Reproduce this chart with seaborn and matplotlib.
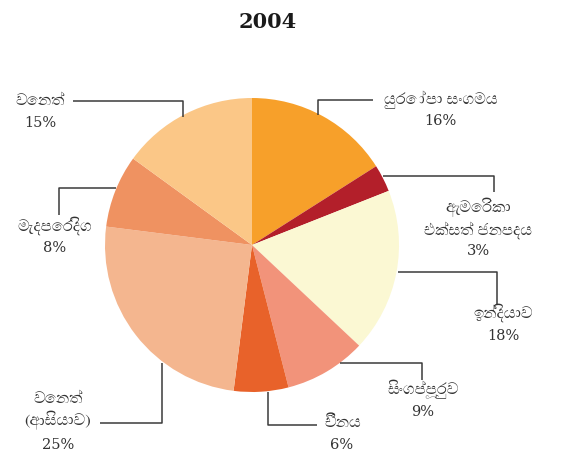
import matplotlib
matplotlib.use("Agg")
import matplotlib.pyplot as plt
from matplotlib import font_manager
import seaborn as sns

# ---- data ----
title = "2004"
categories = ["යුරෝපා සංගමය", "ඇමෙරිකා\nඑක්සත් ජනපදය", "ඉන්දියාව", "සිංගප්පූරුව",
              "චීනය", "වෙනත්\n(ආසියාව)", "මැදපෙරදිග", "වෙනත්"]
values = [16, 3, 18, 9, 6, 25, 8, 15]
colors = ["#F7A02A", "#B31F2A", "#FBF8D3", "#F2937A", "#E8622A", "#F4B68F", "#EF9261", "#FBC787"]

sns.set_theme(style="white")


def find_sinhala_families():
    fams = []
    try:
        from fontTools.ttLib import TTFont
    except Exception:
        return fams
    for fe in font_manager.fontManager.ttflist:
        if fe.name in fams:
            continue
        try:
            f = TTFont(fe.fname, fontNumber=0, lazy=True)
            cmap = f.getBestCmap() or {}
            if 0x0D9A in cmap and 0x0DCA in cmap:
                fams.append(fe.name)
        except Exception:
            pass
    # prefer serif-looking, non-UI families
    fams.sort(key=lambda n: (0 if "Serif" in n else 1, 1 if "UI" in n else 0))
    return fams


sin_fams = find_sinhala_families()
family_list = sin_fams + ["DejaVu Sans"]
plt.rcParams["font.family"] = family_list

W, H = 566, 462
fig = plt.figure(figsize=(W / 100, H / 100), dpi=100)
ax = fig.add_axes([0, 0, 1, 1])


def Y(y):
    return H - y


cx, cy, r = 252, 245, 147
ax.pie(values, colors=sns.color_palette(colors), startangle=90, counterclock=False,
       center=(cx, Y(cy)), radius=r, frame=True,
       wedgeprops=dict(linewidth=0))
ax.set_xlim(0, W)
ax.set_ylim(0, H)
ax.set_aspect("equal")
ax.axis("off")

ax.text(268, Y(22), title, ha="center", va="center", fontsize=15,
        fontweight="bold", family="DejaVu Serif", color="#1a1a1a")

# leader lines (layout, pixel coords)
leaders = [
    [(318, 115), (318, 100), (373, 100)],
    [(383, 176), (494, 176), (494, 192)],
    [(398, 272), (497, 272), (497, 305)],
    [(340, 363), (422, 363), (422, 380)],
    [(268, 392), (268, 425), (317, 425)],
    [(162, 363), (162, 423), (100, 423)],
    [(116, 188), (59, 188), (59, 215)],
    [(73, 101), (183, 101), (183, 117)],
]
for pts in leaders:
    xs = [p[0] for p in pts]
    ys = [Y(p[1]) for p in pts]
    ax.plot(xs, ys, color="#3a3a3a", lw=1.1, solid_capstyle="butt")

# label positions (layout)
label_pos = [
    (441, 100),
    (478, 218),
    (503, 313),
    (423, 389),
    (343, 423),
    (58, 411),
    (55, 226),
    (40, 101),
]
pct_pos = [
    (440, 121), (478, 251), (503, 336), (423, 412),
    (342, 445), (58, 445), (55, 248), (40, 123),
]
for cat, val, (lx, ly), (px, py) in zip(categories, values, label_pos, pct_pos):
    ax.text(lx, Y(ly), cat, ha="center", va="center", fontsize=11.8, color="#333333",
            linespacing=1.35, family=family_list)
    ax.text(px, Y(py), f"{val}%", ha="center", va="center", fontsize=10.5,
            color="#333333", family="DejaVu Serif")

fig.savefig("out.png", dpi=100)
